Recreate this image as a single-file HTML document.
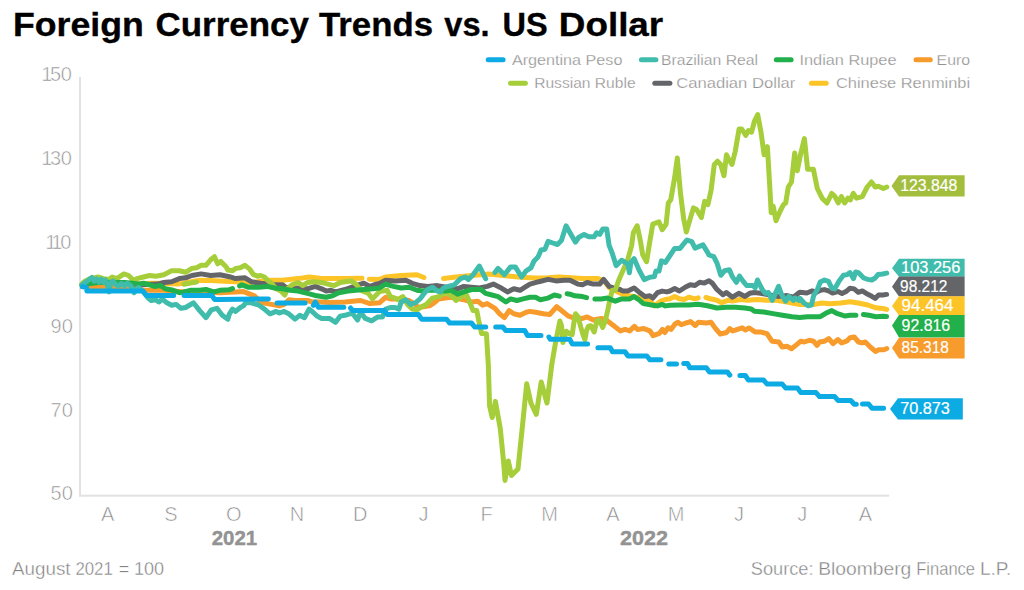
<!DOCTYPE html>
<html><head><meta charset="utf-8"><title>Foreign Currency Trends vs. US Dollar</title>
<style>
html,body{margin:0;padding:0;background:#fff;}
body{width:1024px;height:590px;overflow:hidden;font-family:"Liberation Sans",sans-serif;}
svg{display:block;}
text{font-family:"Liberation Sans",sans-serif;}
.title{font-size:33.5px;font-weight:bold;fill:#000;stroke:#000;stroke-width:0.35px;}
.ax{font-size:20px;fill:#8b8b8b;stroke:#fff;stroke-width:0.6px;paint-order:fill stroke;}
.yr{font-size:20.6px;font-weight:bold;fill:#939393;stroke:#939393;stroke-width:0.4px;}
.ft{font-size:18.8px;fill:#828282;stroke:#fff;stroke-width:0.38px;paint-order:fill stroke;}
.lg{font-size:15.5px;fill:#929292;stroke:#fff;stroke-width:0.25px;paint-order:fill stroke;}
.lb{font-size:16.2px;fill:#fff;stroke:#fff;stroke-width:0.2px;}
</style></head>
<body>
<svg width="1024" height="590" viewBox="0 0 1024 590">
<rect width="1024" height="590" fill="#fff"/>
<text x="13.0" y="36" class="title" textLength="130.8" lengthAdjust="spacingAndGlyphs">Foreign</text>
<text x="155.6" y="36" class="title" textLength="153.2" lengthAdjust="spacingAndGlyphs">Currency</text>
<text x="319.0" y="36" class="title" textLength="114.0" lengthAdjust="spacingAndGlyphs">Trends</text>
<text x="444.3" y="36" class="title" textLength="45.3" lengthAdjust="spacingAndGlyphs">vs.</text>
<text x="502.4" y="36" class="title" textLength="45.2" lengthAdjust="spacingAndGlyphs">US</text>
<text x="558.8" y="36" class="title" textLength="104.4" lengthAdjust="spacingAndGlyphs">Dollar</text>

<rect x="79" y="77" width="2" height="419.7" fill="#e2e2e2"/>
<rect x="79" y="494.7" width="810.2" height="2" fill="#e2e2e2"/>
<text x="41.2" y="81.4" class="ax"><tspan>1</tspan><tspan dx="-2.4">5</tspan><tspan dx="-0.4">0</tspan></text>
<text x="41.2" y="165.2" class="ax"><tspan>1</tspan><tspan dx="-2.4">3</tspan><tspan dx="-0.4">0</tspan></text>
<text x="45.2" y="249.0" class="ax"><tspan>1</tspan><tspan dx="-3.6">1</tspan><tspan dx="-2.2">0</tspan></text>
<text x="50.6" y="332.8" class="ax">90</text>
<text x="50.6" y="416.6" class="ax">70</text>
<text x="50.6" y="500.4" class="ax">50</text>

<text x="107.6" y="520.5" text-anchor="middle" class="ax">A</text>
<text x="170.8" y="520.5" text-anchor="middle" class="ax">S</text>
<text x="233.9" y="520.5" text-anchor="middle" class="ax">O</text>
<text x="297.0" y="520.5" text-anchor="middle" class="ax">N</text>
<text x="360.2" y="520.5" text-anchor="middle" class="ax">D</text>
<text x="423.4" y="520.5" text-anchor="middle" class="ax">J</text>
<text x="486.5" y="520.5" text-anchor="middle" class="ax">F</text>
<text x="549.6" y="520.5" text-anchor="middle" class="ax">M</text>
<text x="612.8" y="520.5" text-anchor="middle" class="ax">A</text>
<text x="676.0" y="520.5" text-anchor="middle" class="ax">M</text>
<text x="739.1" y="520.5" text-anchor="middle" class="ax">J</text>
<text x="802.2" y="520.5" text-anchor="middle" class="ax">J</text>
<text x="865.4" y="520.5" text-anchor="middle" class="ax">A</text>

<text x="234.5" y="544.6" text-anchor="middle" class="yr" textLength="45.5" lengthAdjust="spacingAndGlyphs">2021</text>
<text x="644" y="544.6" text-anchor="middle" class="yr" textLength="48" lengthAdjust="spacingAndGlyphs">2022</text>
<text x="12.1" y="574.8" class="ft" textLength="58.5" lengthAdjust="spacingAndGlyphs">August</text>
<text x="75.4" y="574.8" class="ft" textLength="37.4" lengthAdjust="spacingAndGlyphs">2021</text>
<text x="118.7" y="574.8" class="ft" textLength="10.5" lengthAdjust="spacingAndGlyphs">=</text>
<text x="134.0" y="574.8" class="ft" textLength="30.1" lengthAdjust="spacingAndGlyphs">100</text>
<text x="750.8" y="574.8" class="ft" textLength="62.7" lengthAdjust="spacingAndGlyphs">Source:</text>
<text x="818.2" y="574.8" class="ft" textLength="93.1" lengthAdjust="spacingAndGlyphs">Bloomberg</text>
<text x="916.2" y="574.8" class="ft" textLength="58.9" lengthAdjust="spacingAndGlyphs">Finance</text>
<text x="979.9" y="574.8" class="ft" textLength="31.3" lengthAdjust="spacingAndGlyphs">L.P.</text>

<line x1="488.2" y1="59.8" x2="503.1" y2="59.8" stroke="#0cabe3" stroke-width="5" stroke-linecap="round"/>
<text x="511.9" y="64.6" class="lg" textLength="110.5" lengthAdjust="spacingAndGlyphs">Argentina Peso</text>
<line x1="641.4" y1="59.8" x2="655.9" y2="59.8" stroke="#40bcad" stroke-width="5" stroke-linecap="round"/>
<text x="661" y="64.6" class="lg" textLength="97.1" lengthAdjust="spacingAndGlyphs">Brazilian Real</text>
<line x1="776.3" y1="59.8" x2="791.1" y2="59.8" stroke="#21b04b" stroke-width="5" stroke-linecap="round"/>
<text x="799.5" y="64.6" class="lg" textLength="97" lengthAdjust="spacingAndGlyphs">Indian Rupee</text>
<line x1="916" y1="59.8" x2="930.3" y2="59.8" stroke="#f89b2d" stroke-width="5" stroke-linecap="round"/>
<text x="936.6" y="64.6" class="lg" textLength="33.5" lengthAdjust="spacingAndGlyphs">Euro</text>
<line x1="510.5" y1="83.2" x2="525.4" y2="83.2" stroke="#a6ce3a" stroke-width="5" stroke-linecap="round"/>
<text x="534.2" y="87.9" class="lg" textLength="101.4" lengthAdjust="spacingAndGlyphs">Russian Ruble</text>
<line x1="654.8" y1="83.2" x2="669.9" y2="83.2" stroke="#646569" stroke-width="5" stroke-linecap="round"/>
<text x="676.2" y="87.9" class="lg" textLength="119.2" lengthAdjust="spacingAndGlyphs">Canadian Dollar</text>
<line x1="811.4" y1="83.2" x2="826.2" y2="83.2" stroke="#fdc427" stroke-width="5" stroke-linecap="round"/>
<text x="836" y="87.9" class="lg" textLength="134.1" lengthAdjust="spacingAndGlyphs">Chinese Renminbi</text>

<path d="M82.4,286.3 L101.2,285.3 L132.5,284.1 L151.2,283.3 L157.5,283.3 L177.8,284.1 L199.7,280.2 L210.6,280.6 L229.4,281.6 L235.6,281.7 L251.2,282.5 L270.0,280.2 L282.5,280.2 L298.1,278.6 L309.1,277.0 L321.6,278.6 L345.0,278.6 L362.1,278.2 M369.3,279.2 L379.4,279.4 L385.6,277.0 L401.2,275.5 L416.9,274.7 L423.9,277.5 L423.9,277.5 M443.5,278.5 L455.9,277.0 L471.6,275.5 L488.8,273.9 L502.8,275.5 L518.4,277.0 L530.0,277.8 L535.6,278.1 L548.1,277.8 L559.1,277.0 L571.6,277.8 L582.5,278.6 L598.1,278.6 L602.0,280.2 L605.2,282.5 L609.1,287.5 L613.8,290.0 L620.0,293.1 L624.7,295.3 L634.1,296.6 L641.9,298.1 L649.7,300.5 L654.4,305.9 L660.6,301.2 L666.9,299.2 L670.0,298.8 L674.7,296.4 L679.4,298.8 L684.0,299.5 L688.8,297.2 L695.0,298.8 L698.2,297.9 M705.9,297.5 L710.6,298.8 L716.9,300.3 L721.6,302.7 L727.8,300.3 L732.5,301.1 L740.3,299.5 L748.0,300.3 L757.5,299.5 L766.9,300.3 L776.3,300.3 L785.6,301.9 L793.4,303.4 L800.0,304.5 L813.6,304.5 L821.7,303.0 L829.8,303.8 L840.7,303.0 L850.0,301.7 L858.3,303.0 L867.8,305.0 L875.9,307.8 L882.7,308.5 L886.7,309.4" stroke="#fdc427" stroke-width="5.0" fill="none" stroke-linecap="round" stroke-linejoin="round"/>
<path d="M82.4,286.3 L93.4,285.9 L116.9,285.3 L140.3,284.8 L157.5,284.1 L163.8,282.5 L171.6,281.7 L179.4,278.6 L185.6,277.8 L191.9,275.5 L201.2,273.9 L210.6,275.5 L220.0,274.7 L229.4,276.7 L235.6,278.6 L245.0,277.8 L251.2,281.7 L260.6,283.3 L266.9,284.1 L274.7,284.8 L282.5,284.8 L285.6,287.2 L295.0,288.0 L307.5,288.8 L315.3,286.4 L321.6,288.8 L326.2,291.1 L330.9,290.3 L335.6,291.9 L345.0,289.5 L360.6,284.1 L363.8,283.3 L370.0,286.4 L376.2,284.1 L379.4,283.4 L385.6,280.2 L395.0,280.9 L405.9,280.2 L412.2,283.3 L420.0,285.6 L427.8,286.4 L437.2,285.6 L448.1,287.5 L457.5,288.8 L463.8,286.4 L471.6,287.2 L479.4,288.0 L487.2,286.4 L493.4,284.1 L499.7,287.2 L507.5,291.9 L513.8,288.8 L520.0,290.3 L526.2,286.4 L530.0,284.1 L538.8,281.7 L548.1,279.4 L555.9,280.9 L563.8,280.2 L570.0,280.2 L577.8,284.1 L582.5,284.8 L587.2,282.5 L593.4,284.1 L599.7,284.1 L603.6,279.4 L609.1,286.4 L613.8,288.0 L620.0,289.5 L623.1,291.1 L627.8,291.1 L634.1,288.0 L638.8,291.9 L645.0,296.6 L649.7,295.8 L652.8,298.1 L657.5,292.7 L662.2,291.1 L666.9,291.9 L670.0,291.0 L674.7,288.6 L679.4,291.0 L685.6,287.0 L690.3,284.7 L695.0,285.5 L699.7,282.3 L704.4,283.1 L709.0,280.8 L712.2,283.1 L716.9,289.4 L723.1,294.8 L726.3,292.5 L732.5,297.2 L738.8,293.3 L745.0,296.4 L749.7,293.3 L754.4,292.5 L760.6,293.3 L770.0,295.0 L777.8,296.4 L787.2,295.6 L793.4,297.2 L799.0,292.8 L800.0,292.3 L806.8,293.0 L812.2,290.9 L816.3,292.3 L820.3,290.2 L824.4,289.6 L828.5,290.9 L832.5,293.0 L838.0,291.6 L842.0,293.6 L846.0,291.6 L850.0,288.2 L854.2,288.9 L858.3,292.3 L862.3,290.9 L867.8,294.3 L871.8,296.3 L875.2,298.4 L878.6,295.0 L882.7,295.0 L886.6,294.4" stroke="#646569" stroke-width="5.0" fill="none" stroke-linecap="round" stroke-linejoin="round"/>
<path d="M82.4,286.4 L88.8,286.4 L104.4,286.4 L121.6,288.0 L145.0,290.3 L163.8,290.3 L179.4,291.6 L195.0,291.9 L210.6,292.2 L220.0,292.7 L229.4,292.3 L235.6,291.9 L243.4,291.6 L248.1,293.4 L254.4,295.8 L259.1,300.5 L262.2,302.8 L271.6,304.4 L279.4,305.9 L284.1,304.4 L288.8,299.7 L295.0,300.5 L307.5,300.5 L312.2,302.0 L321.6,302.0 L329.4,302.5 L345.0,302.0 L360.6,300.5 L370.0,303.6 L379.4,302.8 L385.6,297.3 L390.3,298.9 L396.6,298.9 L409.1,300.5 L415.3,304.4 L418.4,307.5 L429.4,305.9 L434.1,302.8 L438.8,298.9 L445.0,298.1 L451.2,297.3 L463.8,299.7 L471.6,302.0 L477.8,301.2 L482.5,305.2 L487.2,303.6 L495.0,308.3 L499.7,313.8 L504.4,317.7 L509.1,310.6 L513.8,313.8 L520.0,315.3 L526.2,312.2 L530.0,311.4 L535.6,312.2 L543.4,313.8 L549.7,314.5 L556.7,306.7 L560.6,309.8 L568.4,316.1 L573.1,317.7 L582.5,318.4 L587.2,316.9 L593.4,320.0 L601.2,318.4 L606.3,320.0 L612.5,324.7 L620.3,330.9 L625.0,329.4 L629.7,330.9 L634.4,326.3 L637.5,329.4 L643.8,328.6 L650.0,330.9 L653.0,335.6 L659.4,333.3 L662.5,329.4 L664.8,332.5 L668.0,327.8 L671.0,329.4 L675.0,324.0 L678.0,322.3 L681.3,324.7 L686.0,323.0 L690.6,321.6 L695.3,325.5 L698.4,322.3 L706.3,323.0 L711.0,322.3 L715.6,328.6 L720.3,334.0 L726.6,332.5 L729.7,328.6 L732.8,330.9 L737.5,329.4 L742.2,327.8 L745.3,330.0 L749.0,328.0 L750.0,328.5 L755.0,331.9 L760.2,331.9 L767.0,333.6 L772.0,341.2 L778.8,342.0 L782.2,347.0 L787.3,346.3 L791.5,348.8 L795.8,345.4 L800.8,341.2 L804.2,342.0 L809.3,340.3 L813.6,341.2 L817.0,345.4 L819.5,342.0 L824.6,341.2 L828.8,338.6 L833.0,343.7 L838.0,339.5 L841.5,342.9 L846.6,341.2 L850.0,337.8 L854.2,337.0 L858.5,342.0 L861.9,342.9 L865.3,342.0 L870.3,347.0 L875.4,351.4 L878.8,349.7 L883.9,349.7 L886.8,348.5" stroke="#f89b2d" stroke-width="5.0" fill="none" stroke-linecap="round" stroke-linejoin="round"/>
<path d="M81.6,284.6 L84.1,281.7 L90.3,278.6 L98.1,277.0 L103.6,278.6 L109.1,279.4 L112.2,277.0 L116.9,278.6 L123.9,273.9 L128.6,275.5 L133.3,280.2 L137.2,278.6 L143.4,277.0 L149.7,275.5 L155.9,276.2 L163.8,274.7 L171.6,270.8 L179.4,270.8 L185.6,272.3 L191.9,268.4 L196.6,267.7 L201.2,265.3 L205.9,265.3 L210.6,259.8 L214.5,256.7 L217.7,263.8 L220.8,261.4 L226.2,266.9 L227.8,270.0 L232.5,270.8 L235.6,268.4 L240.3,267.7 L245.0,265.3 L249.7,269.2 L253.6,274.7 L257.5,276.2 L260.6,275.5 L264.5,277.0 L268.4,280.9 L271.6,283.3 L276.2,288.8 L280.9,291.1 L284.8,295.0 L287.2,288.8 L291.9,284.8 L298.1,282.5 L302.8,285.6 L307.5,282.5 L313.8,281.7 L321.6,282.5 L327.8,284.1 L334.1,285.6 L340.3,282.5 L345.0,281.7 L351.2,280.9 L355.9,284.1 L360.6,290.3 L368.4,293.4 L372.3,298.9 L376.2,295.0 L379.4,291.6 L382.5,291.1 L387.2,290.3 L390.3,296.6 L395.0,298.1 L398.1,299.7 L402.8,296.6 L407.5,304.4 L412.2,309.1 L416.9,309.8 L421.6,306.7 L426.2,304.4 L432.5,298.1 L438.8,296.6 L445.0,292.7 L448.9,294.2 L452.8,296.6 L455.9,300.5 L460.6,297.3 L463.8,293.4 L466.9,295.8 L470.0,302.8 L473.1,310.6 L476.8,310.6 L478.6,320.0 L481.6,333.5 L486.4,333.8 L488.3,364.4 L489.6,406.0 L492.2,417.5 L495.4,401.4 L500.3,428.8 L503.5,461.0 L505.0,480.4 L508.3,461.0 L511.5,475.5 L518.0,469.0 L522.8,422.4 L526.7,383.7 L530.9,403.0 L536.3,414.3 L541.2,382.0 L547.0,403.0 L551.8,364.4 L555.3,343.9 L557.8,331.2 L559.9,321.0 L561.6,326.1 L562.9,342.6 L566.3,331.2 L569.7,333.7 L572.2,334.6 L573.9,322.7 L575.6,313.8 L578.1,316.8 L580.7,326.9 L583.2,335.4 L584.9,339.7 L586.6,330.3 L588.3,326.5 L590.8,325.7 L594.2,332.0 L596.8,321.0 L599.3,320.2 L602.7,327.4 L605.3,321.0 L607.8,310.0 L609.8,300.0 L612.2,290.3 L615.3,290.3 L618.4,281.0 L623.1,270.3 L627.8,259.4 L631.7,245.3 L633.3,232.8 L637.2,225.8 L640.3,240.6 L642.7,254.7 L646.6,261.7 L649.7,242.2 L652.8,224.2 L659.0,221.9 L662.2,229.7 L666.1,224.2 L668.3,203.0 L670.8,199.8 L674.7,177.3 L677.3,158.0 L680.5,193.4 L683.7,219.1 L686.3,232.0 L690.1,219.1 L693.4,207.9 L696.6,209.5 L701.4,217.5 L704.6,201.4 L707.9,204.6 L711.1,190.1 L714.3,164.4 L717.5,161.2 L720.7,164.4 L724.0,175.7 L726.5,154.7 L728.8,159.6 L732.0,164.4 L735.2,151.5 L739.1,129.0 L741.7,129.0 L745.8,135.4 L748.4,130.6 L751.6,132.2 L754.5,121.0 L757.7,114.5 L761.0,132.2 L764.1,154.7 L767.4,146.7 L769.6,183.7 L771.2,212.7 L773.2,206.2 L776.0,220.7 L780.2,211.0 L783.5,204.6 L785.7,203.0 L788.3,187.0 L791.5,182.0 L794.7,153.0 L797.3,170.8 L800.5,154.7 L804.4,138.6 L807.6,169.2 L813.4,169.2 L817.3,188.5 L822.1,198.2 L827.0,203.0 L831.8,193.4 L835.0,196.6 L838.2,203.0 L841.4,196.6 L844.6,203.0 L847.9,198.2 L850.4,199.8 L853.3,193.4 L856.5,198.2 L862.3,196.6 L867.2,187.0 L871.4,182.0 L875.2,187.0 L878.4,186.3 L883.3,188.5 L886.8,187.0 M184.0,284.3 L188.8,283.3 L196.5,282.1" stroke="#a6ce3a" stroke-width="5.0" fill="none" stroke-linecap="round" stroke-linejoin="round"/>
<path d="M82.2,285.5 L85.6,284.1 L101.2,282.2 L121.6,282.5 L124.7,282.5 L132.5,283.3 L138.8,284.1 L143.4,283.3 L149.7,284.8 L154.4,286.4 L160.6,285.6 L165.3,288.8 L173.1,290.3 L179.4,292.7 L184.1,291.9 L190.3,290.3 L199.7,290.3 L205.9,289.5 L213.8,291.9 L220.0,290.3 L229.4,289.7 L232.5,288.6 M239.6,285.9 L241.9,284.8 L248.1,287.2 L259.1,287.2 L266.9,286.4 L274.7,288.0 L282.5,288.8 L290.3,290.3 L298.1,291.1 L307.5,293.4 L316.9,295.8 L326.2,297.3 L332.5,295.8 L338.8,292.7 L348.1,291.1 L355.9,290.3 L363.8,289.5 L373.1,288.8 L379.4,288.0 L385.6,284.1 L393.4,286.4 L401.2,288.0 L409.1,287.2 L416.9,290.3 L423.1,291.1 L429.4,290.3 L435.6,290.3 L445.0,291.1 L451.2,290.3 L457.5,294.2 L463.8,291.9 L471.6,289.5 L480.9,289.5 L485.6,293.4 L491.9,295.0 L498.1,296.6 L505.9,302.0 L510.6,298.9 L516.9,300.5 L523.1,298.9 L530.0,297.3 L535.6,297.3 L540.3,299.7 L548.1,298.1 L554.4,295.0 L559.3,296.1 M567.1,293.8 L570.0,294.2 L574.7,295.8 L582.5,296.6 L586.6,297.6 M594.9,298.9 L601.2,298.9 L607.5,298.1 L615.3,301.2 L621.6,298.9 L629.4,298.9 L634.1,296.6 L638.8,299.7 L643.4,303.6 L652.8,305.2 L657.5,305.9 L662.2,304.4 L665.3,305.9 L670.0,305.2 L679.4,305.0 L688.8,305.0 L698.0,304.2 L707.5,305.8 L716.9,308.0 L726.3,307.3 L735.6,307.3 L745.0,308.0 L751.3,309.0 L754.4,311.3 L763.8,312.0 L773.0,313.6 L782.5,315.2 L791.9,316.7 L799.7,317.5 L807.5,316.7 L815.3,316.7 L820.3,316.7 L825.7,313.3 L831.8,310.6 L836.6,313.3 L840.7,314.6 L844.7,316.0 L850.0,315.3 L855.9,315.3 M863.4,314.5 L869.0,315.3 L875.9,316.7 L882.7,316.2 L886.6,316.5" stroke="#21b04b" stroke-width="5.0" fill="none" stroke-linecap="round" stroke-linejoin="round"/>
<path d="M81.9,285.0 L85.6,282.2 L91.9,277.5 L94.2,281.2 L96.6,278.8 L98.9,282.2 L101.2,279.1 L103.4,282.2 L105.3,280.0 L107.2,284.4 L109.1,291.9 L110.9,282.5 L113.0,281.2 L116.1,285.0 L119.2,285.9 L121.6,283.3 L124.7,285.9 L127.0,283.3 L130.9,285.9 L134.1,292.7 L136.4,288.8 L138.8,287.5 L143.4,291.9 L148.1,298.1 L151.2,300.5 L155.2,299.7 L159.1,302.0 L162.2,298.9 L166.9,302.8 L171.6,305.2 L176.2,304.4 L180.9,308.3 L185.6,307.5 L193.4,302.8 L199.7,310.6 L205.9,317.7 L211.4,309.8 L216.9,308.3 L222.3,315.3 L227.8,319.2 L229.4,313.8 L232.5,309.1 L235.6,311.4 L240.3,307.5 L243.4,305.9 L245.8,302.8 L251.2,302.8 L259.1,305.2 L265.3,309.8 L270.0,313.8 L276.2,311.4 L279.4,313.0 L284.1,311.4 L288.8,313.8 L295.0,319.2 L299.7,315.3 L304.4,317.7 L309.1,309.1 L312.2,311.4 L316.9,316.1 L321.6,318.4 L329.4,318.4 L335.6,322.3 L340.3,316.1 L345.0,315.3 L349.7,313.8 L352.8,313.8 L357.5,320.0 L360.6,312.2 L365.3,318.4 L371.6,320.8 L377.8,316.9 L382.5,316.9 L385.6,309.1 L390.3,307.5 L395.0,307.5 L398.9,309.1 L401.2,302.0 L405.9,299.7 L410.6,304.4 L415.3,302.8 L420.0,298.9 L424.7,292.7 L427.8,289.5 L432.5,287.2 L437.2,291.1 L440.3,291.9 L443.4,288.0 L448.1,286.4 L454.4,284.8 L460.6,278.6 L465.3,277.0 L468.4,279.4 L473.1,274.7 L479.4,266.1 L482.5,272.3 L485.6,278.6 L485.7,278.7 M494.9,272.5 L498.1,268.4 L504.4,274.7 L510.6,266.9 L515.3,266.9 L521.6,277.0 L526.2,270.8 L530.0,268.4 L530.9,268.0 L534.1,260.9 L538.0,257.0 L541.1,250.0 L545.0,249.2 L548.1,241.4 L552.8,243.0 L557.5,244.5 L561.4,240.6 L566.1,225.8 L570.0,232.8 L575.5,242.2 L578.6,237.5 L584.1,234.4 L588.8,236.7 L594.2,236.7 L596.6,232.8 L599.7,234.4 L602.8,228.9 L606.7,228.9 L609.1,245.3 L612.2,253.1 L616.1,265.6 L621.6,260.2 L627.8,264.0 L629.4,272.7 L630.9,262.5 L634.1,258.6 L638.8,269.5 L644.2,279.7 L649.7,277.3 L654.4,276.6 L655.9,271.1 L659.0,271.1 L661.4,260.9 L665.3,262.5 L670.0,255.5 L674.7,248.4 L680.0,248.4 L686.9,240.0 L691.8,241.7 L695.0,248.1 L703.0,244.9 L707.9,252.9 L709.0,255.0 L713.8,256.6 L716.9,262.8 L720.8,275.3 L724.7,270.6 L729.4,269.8 L732.5,276.9 L736.4,282.3 L739.5,276.1 L743.4,281.6 L746.6,285.5 L752.8,285.5 L755.2,287.8 L757.5,280.0 L762.2,289.4 L765.3,293.3 L768.4,292.5 L772.3,300.3 L778.6,286.3 L781.7,294.8 L785.6,301.1 L788.8,296.4 L793.4,300.3 L795.0,298.0 L798.9,300.3 L800.0,298.4 L804.0,303.0 L808.0,305.8 L811.5,305.0 L813.6,295.7 L817.6,288.9 L820.3,282.0 L824.4,280.0 L828.5,281.4 L831.8,288.2 L834.6,288.9 L839.3,280.7 L843.4,275.3 L847.4,274.6 L850.0,272.6 L853.5,278.7 L855.6,272.0 L858.3,272.6 L863.7,278.0 L867.8,279.4 L871.8,280.0 L875.2,278.0 L878.0,274.6 L882.7,274.0 L886.7,273.1" stroke="#40bcad" stroke-width="5.0" fill="none" stroke-linecap="round" stroke-linejoin="round"/>
<path d="M82.4,286.7 L86.4,287.2 L86.9,291.0 L143.0,291.0 L146.6,295.5 L173.6,295.5 M184.1,295.5 L212.0,295.5 L214.5,299.4 L220.0,299.4 L268.4,298.9 M277.1,303.1 L305.1,303.1 M313.4,305.4 L315.3,302.0 L318.4,307.2 L343.8,307.2 M350.5,308.0 L352.8,310.6 L380.0,310.6 L384.1,310.6 L387.2,314.5 L418.4,314.5 L421.6,319.2 L446.6,319.2 L449.7,323.1 L471.6,323.1 L474.7,327.0 L485.7,327.0 M495.7,327.0 L502.8,327.0 L505.9,330.6 L524.7,330.6 L527.5,335.4 L541.0,335.4 M548.9,337.0 L550.2,339.2 L569.7,339.2 L572.2,343.9 L587.6,343.9 M597.9,347.7 L610.3,347.7 L612.5,351.7 L625.0,351.7 L628.0,356.0 L646.9,356.0 L650.0,359.8 L660.9,359.8 M668.8,364.0 L676.5,364.0 M683.7,363.4 L687.5,363.4 L689.8,367.7 L706.3,367.7 L709.4,371.9 L727.3,371.9 L729.8,375.1 M739.9,375.5 L745.3,375.5 L748.4,380.0 L763.6,380.0 L767.0,384.0 L782.2,384.0 L785.6,388.0 L797.5,388.0 L800.8,392.5 L816.0,392.5 L819.5,396.6 L834.7,396.6 L838.0,400.5 L850.8,400.5 L854.2,404.2 L856.3,404.2 M862.5,404.0 L868.6,404.0 L872.0,408.3 L883.6,408.3" stroke="#0cabe3" stroke-width="5.0" fill="none" stroke-linecap="round" stroke-linejoin="round"/>
<polygon points="891.5,186 899,175.3 964.6,175.3 964.6,196.6 899,196.6" fill="#a3bd3d"/>
<text x="900.2" y="191.0" class="lb" textLength="57.2" lengthAdjust="spacingAndGlyphs">123.848</text>
<polygon points="892,268.3 899,258.7 964.6,258.7 964.6,276.8 899,276.8" fill="#40bcad"/>
<text x="901.1" y="272.9" class="lb" textLength="59.2" lengthAdjust="spacingAndGlyphs">103.256</text>
<polygon points="892,286.8 899,276.4 964.6,276.4 964.6,296.6 899,296.6" fill="#646569"/>
<text x="900.1" y="291.6" class="lb" textLength="47.2" lengthAdjust="spacingAndGlyphs">98.212</text>
<polygon points="892,306 899,296.2 964.6,296.2 964.6,315.4 899,315.4" fill="#fdc427"/>
<text x="901.6" y="310.9" class="lb" textLength="51.9" lengthAdjust="spacingAndGlyphs">94.464</text>
<polygon points="892,325.5 899,315 964.6,315 964.6,337.4 899,337.4" fill="#21b04b"/>
<text x="901.6" y="331.3" class="lb" textLength="48.6" lengthAdjust="spacingAndGlyphs">92.816</text>
<polygon points="892,348 899,337.7 964.6,337.7 964.6,358.6 899,358.6" fill="#f89b2d"/>
<text x="901.6" y="353.2" class="lb" textLength="47.2" lengthAdjust="spacingAndGlyphs">85.318</text>
<polygon points="890,408.9 898,398.3 962.8,398.3 962.8,419.6 898,419.6" fill="#0cabe3"/>
<text x="900.2" y="414.1" class="lb" textLength="49.7" lengthAdjust="spacingAndGlyphs">70.873</text>

</svg>
</body></html>
